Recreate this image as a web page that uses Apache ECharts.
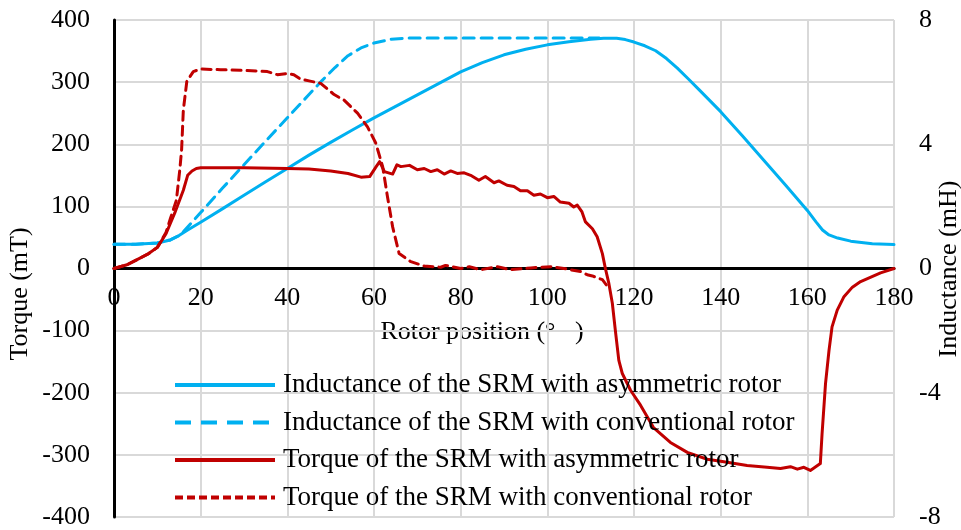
<!DOCTYPE html>
<html>
<head>
<meta charset="utf-8">
<title>SRM torque and inductance vs rotor position</title>
<script src="https://cdn.jsdelivr.net/npm/echarts@6/dist/echarts.min.js"></script>
<style>
  html, body { margin: 0; padding: 0; background: #fff; }
  #chart { width: 961px; height: 530px; }
</style>
</head>
<body>
<div id="chart"></div>
<script>
// Rotor position axis ticks (degrees) and value axis ticks
const xTicks = { min: 0, max: 180, step: 20 };
const torqueTicks = { min: -400, max: 400, step: 100 };
const inductanceTicks = { min: -8, max: 8, step: 4 };

const seriesNames = [
  'Inductance of the SRM with asymmetric rotor',
  'Inductance of the SRM with conventional rotor',
  'Torque of the SRM with asymmetric rotor',
  'Torque of the SRM with conventional rotor'
];

// Inductance (mH) vs rotor position (deg), asymmetric rotor
const inductanceAsym = [
  [0, 0.78], [5, 0.78], [10, 0.82], [13, 0.92], [15, 1.06], [17, 1.24], [20, 1.49],
  [25, 1.92], [30, 2.36], [35, 2.79], [40, 3.22], [45, 3.65], [50, 4.06], [55, 4.46],
  [60, 4.85], [65, 5.22], [70, 5.59], [75, 5.96], [80, 6.33], [85, 6.63], [90, 6.88],
  [95, 7.06], [100, 7.2], [105, 7.3], [110, 7.38], [113, 7.41], [116, 7.41], [118, 7.37],
  [120, 7.29], [122.5, 7.17], [125, 7.01], [127.5, 6.76], [130, 6.45], [132.5, 6.11],
  [135, 5.76], [140, 5.05], [145, 4.27], [150, 3.48], [155, 2.68], [160, 1.87],
  [162, 1.5], [163.5, 1.24], [165, 1.08], [167, 0.98], [170, 0.88], [175, 0.8], [180, 0.77]
];

// Inductance (mH) vs rotor position (deg), conventional rotor
const inductanceConv = [
  [0, 0.78], [5, 0.78], [10, 0.82], [13, 0.92], [15, 1.06], [16, 1.18], [20, 1.8],
  [25, 2.58], [30, 3.34], [35, 4.1], [40, 4.85], [45, 5.6], [48, 6.05], [51, 6.47],
  [54, 6.85], [57, 7.1], [60, 7.26], [64, 7.38], [68, 7.42], [80, 7.42], [100, 7.42],
  [112, 7.42]
];

// Torque (mT) vs rotor position (deg), asymmetric rotor
const torqueAsym = [
  [0, 0], [3, 6], [5, 13], [8, 24], [10, 34], [12, 56], [14, 89], [16, 126], [17, 150],
  [18, 157], [19, 161], [20, 162], [30, 162], [40, 161], [45, 160], [50, 157], [54, 153],
  [57, 147], [59, 148], [60.5, 164], [61.3, 172], [62.4, 156], [64.3, 152], [65.3, 167],
  [66.2, 164], [68.2, 166], [70, 159], [71.6, 161], [73.1, 156], [74.6, 159], [76.2, 152],
  [77.7, 157], [79.2, 153], [80.8, 154], [82.3, 150], [84.2, 142], [85.7, 148], [87.7, 138],
  [88.8, 141], [90.7, 134], [92.3, 132], [93.8, 125], [95.4, 125], [96.9, 118], [98.4, 120],
  [100, 114], [101.5, 116], [103, 107], [105, 105], [106.1, 99], [106.9, 102], [108, 91],
  [108.8, 75], [110.4, 64], [111.5, 51], [112.7, 24], [113.4, 0], [114.2, -24], [115, -56],
  [115.7, -100], [116.5, -148], [117.3, -169], [119.2, -196], [121.5, -220], [124.5, -256],
  [128.4, -280], [132.3, -296], [136.9, -307], [141.5, -312], [146.1, -317], [150.7, -320],
  [153.8, -322], [156.1, -319], [157.7, -323], [159.2, -320], [160.7, -325], [163, -314],
  [163.4, -266], [164.2, -185], [165, -132], [165.7, -94], [166.9, -67], [168.4, -46],
  [170.4, -30], [172.3, -21], [176.9, -7], [180, 0]
];

// Torque (mT) vs rotor position (deg), conventional rotor
const torqueConv = [
  [0, 0], [3, 6], [5, 13], [8, 24], [10, 34], [12, 58], [13, 80], [14.4, 110], [15.2, 160],
  [15.6, 191], [16, 255], [16.8, 301], [18.3, 317], [20, 321], [24.6, 320], [29.2, 319],
  [35.4, 317], [37.7, 312], [40, 314], [41.5, 312], [43, 305], [45, 302], [47.7, 298],
  [50.8, 280], [53.1, 271], [56.2, 250], [58.5, 228], [60.4, 202], [62, 164], [63.1, 116],
  [64.3, 67], [65.8, 24], [68.5, 11], [71.6, 4], [75.4, 2], [76.5, 5], [80, 0], [82, 3],
  [84.6, -2], [88.5, 3], [91.5, -2], [96.2, 1], [100.8, 3], [103.8, 0], [107.7, -5],
  [109.2, -10], [110.4, -12], [112.7, -18], [114, -30]
];

const FONT = "'Liberation Serif', 'Times New Roman', serif";
const BLUE = '#00B0F0';
const RED = '#C00000';
const GRID_GRAY = '#D9D9D9';

const W = 961, H = 530;
const GRID = { left: 114, right: 67, top: 20, bottom: 13 };
// The rotor-position axis sits on the torque zero line
const plotHeight = H - GRID.top - GRID.bottom;
const zeroOffset = -plotHeight * (0 - torqueTicks.min) / (torqueTicks.max - torqueTicks.min);

const chart = echarts.init(document.getElementById('chart'), null, { renderer: 'canvas' });

function lineSeries(name, data, color, dashed, yAxisIndex) {
  return {
    name: name,
    type: 'line',
    yAxisIndex: yAxisIndex,
    data: data,
    symbol: 'none',
    smooth: false,
    lineStyle: {
      color: color,
      width: 3,
      type: dashed || 'solid',
      cap: 'round',
      join: 'round'
    },
    itemStyle: { color: color },
    emphasis: { disabled: true }
  };
}

function legendItem(name, color, dash) {
  return {
    name: name,
    lineStyle: { color: color, width: 4, type: dash, cap: 'butt' },
    itemStyle: { opacity: 0 }
  };
}

chart.setOption({
  animation: false,
  backgroundColor: '#fff',
  textStyle: { fontFamily: FONT },
  grid: Object.assign({ containLabel: false, outerBoundsMode: 'none' }, GRID),
  xAxis: {
    type: 'value',
    position: 'bottom',
    offset: zeroOffset,
    min: xTicks.min,
    max: xTicks.max,
    interval: xTicks.step,
    axisLine: { onZero: false, lineStyle: { color: '#000', width: 3 } },
    axisTick: { show: false },
    axisLabel: { fontSize: 26, fontFamily: FONT, color: '#000', margin: 17 },
    splitLine: { show: true, lineStyle: { color: GRID_GRAY, width: 2 } }
  },
  yAxis: [
    {
      type: 'value',
      position: 'left',
      min: torqueTicks.min,
      max: torqueTicks.max,
      interval: torqueTicks.step,
      axisLine: { show: true, onZero: false, lineStyle: { color: '#000', width: 3 } },
      axisTick: { show: false },
      axisLabel: { fontSize: 26, fontFamily: FONT, color: '#000', margin: 24 },
      splitLine: { show: true, lineStyle: { color: GRID_GRAY, width: 2 } }
    },
    {
      type: 'value',
      position: 'right',
      min: inductanceTicks.min,
      max: inductanceTicks.max,
      interval: inductanceTicks.step,
      axisLine: { show: false },
      axisTick: { show: false },
      axisLabel: { fontSize: 26, fontFamily: FONT, color: '#000', margin: 25 },
      splitLine: { show: false }
    }
  ],
  legend: {
    orient: 'vertical',
    left: 168,
    top: 365,
    itemWidth: 100,
    itemHeight: 14,
    itemGap: 7.5,
    selectedMode: false,
    itemStyle: { opacity: 0 },
    textStyle: { fontSize: 27, fontFamily: FONT, color: '#000', lineHeight: 30, padding: [0, 0, 0, 3] },
    data: [
      legendItem(seriesNames[0], BLUE, 'solid'),
      legendItem(seriesNames[1], BLUE, [16, 10]),
      legendItem(seriesNames[2], RED, 'solid'),
      legendItem(seriesNames[3], RED, [8, 4])
    ]
  },
  graphic: [
    {
      type: 'text', x: 20, y: 294, rotation: Math.PI / 2,
      style: { text: 'Torque (mT)', fontSize: 26, fontFamily: FONT, fill: '#000', align: 'center', verticalAlign: 'middle' }
    },
    {
      type: 'text', x: 949, y: 269, rotation: Math.PI / 2,
      style: { text: 'Inductance (mH)', fontSize: 26, fontFamily: FONT, fill: '#000', align: 'center', verticalAlign: 'middle' }
    },
    {
      type: 'text', x: 482, y: 332,
      style: { text: 'Rotor position (°   )', fontSize: 26, fontFamily: FONT, fill: '#000', align: 'center', verticalAlign: 'middle' }
    }
  ],
  series: [
    lineSeries(seriesNames[0], inductanceAsym, BLUE, 'solid', 1),
    lineSeries(seriesNames[1], inductanceConv, BLUE, [11, 7], 1),
    lineSeries(seriesNames[2], torqueAsym, RED, 'solid', 0),
    lineSeries(seriesNames[3], torqueConv, RED, [9, 6], 0)
  ]
});
</script>
</body>
</html>
